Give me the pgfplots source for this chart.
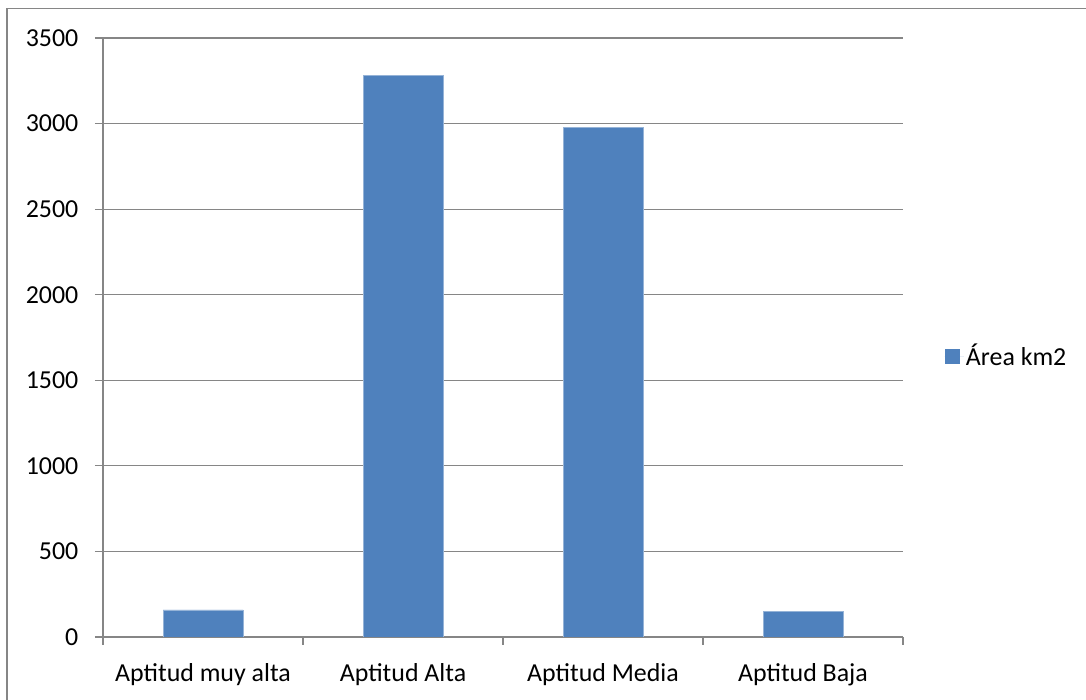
\documentclass[border=0pt]{standalone}
\usepackage{pgfplots}
\pgfplotsset{compat=1.18}
\usepackage{fontspec}
\setmainfont{Carlito}
\definecolor{barblue}{HTML}{4F81BD}
\definecolor{axgray}{HTML}{868686}
\begin{document}
\begin{tikzpicture}
\path[use as bounding box] (0bp,0bp) rectangle (814.5bp,525bp);
\draw[axgray, line width=0.9bp] (5.25bp,0bp) -- (5.25bp,518.5bp) -- (814.5bp,518.5bp);
\begin{axis}[
  at={(77.25bp,47.25bp)}, anchor=south west,
  scale only axis, width=600bp, height=449.25bp,
  xmin=-0.5, xmax=3.5, ymin=0, ymax=3500,
  axis lines*=left,
  tick align=outside,
  ytick={0,500,...,3500},
  xtick={-0.5,0.5,1.5,2.5,3.5},
  x tick label as interval,
  xticklabels={Aptitud muy alta, Aptitud Alta, Aptitud Media, Aptitud Baja},
  xtick style={axgray, line width=0.9bp},
  ytick style={axgray, line width=0.9bp},
  major tick length=6bp,
  axis line style={axgray, line width=0.9bp},
  ymajorgrids,
  grid style={axgray, line width=0.9bp},
  font=\fontsize{19.5}{23}\selectfont,
  tick label style={font=\fontsize{19.5}{23}\selectfont, text=black},
  /pgf/number format/assume math mode=true,
  yticklabel style={/pgf/number format/1000 sep={}, xshift=-9bp},
  xticklabel style={yshift=-10bp},
  ybar, bar width=60bp, bar shift=0pt,
  legend style={at={(1,0.469)}, anchor=west, xshift=28bp, draw=none, fill=none,
    font=\fontsize{19.5}{23}\selectfont, nodes={inner sep=1.5bp}},
  legend image code/.code={\fill[barblue, draw=none] (0bp,-5.6bp) rectangle (11.25bp,5.6bp); \path[draw=none] (0bp,0bp) -- (14.5bp,0bp);},
]
\addplot[fill=barblue, draw=barblue!60!white, line width=0.5bp]
  coordinates {(0,158) (1,3282) (2,2976) (3,148)};
\addlegendentry{Área km2}
\end{axis}
\end{tikzpicture}
\end{document}
